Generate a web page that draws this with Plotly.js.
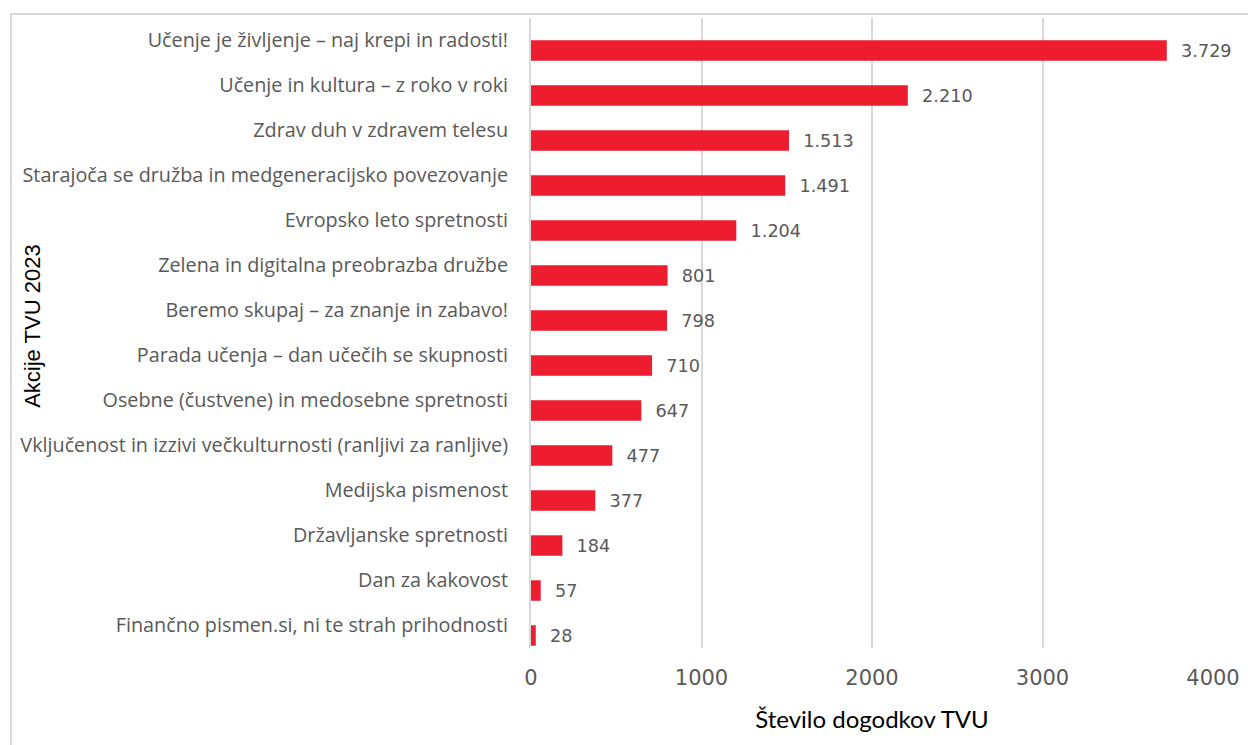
<!DOCTYPE html>
<html>
<head>
<meta charset="utf-8">
<script src="https://cdn.plot.ly/plotly-3.0.1.min.js"></script>
<style>
  body { margin: 0; background: #fff; }
  #graphArea { width: 1248px; height: 745px; }
  #frame { position: absolute; left: 10px; top: 13px; width: 1400px; height: 900px;
           border: 2px solid #d9d9d9; pointer-events: none; }
</style>
</head>
<body>
<div id="graphArea"></div>
<div id="frame"></div>
<script>
// akcije TVU 2023, od zgoraj navzdol
var akcije = [
    "Učenje je življenje – naj krepi in radosti!",
    "Učenje in kultura – z roko v roki",
    "Zdrav duh v zdravem telesu",
    "Starajoča se družba in medgeneracijsko povezovanje",
    "Evropsko leto spretnosti",
    "Zelena in digitalna preobrazba družbe",
    "Beremo skupaj – za znanje in zabavo!",
    "Parada učenja – dan učečih se skupnosti",
    "Osebne (čustvene) in medosebne spretnosti",
    "Vključenost in izzivi večkulturnosti (ranljivi za ranljive)",
    "Medijska pismenost",
    "Državljanske spretnosti",
    "Dan za kakovost",
    "Finančno pismen.si, ni te strah prihodnosti"
];
var dogodki = [3729, 2210, 1513, 1491, 1204, 801, 798, 710, 647, 477, 377, 184, 57, 28];

var xTicks = [0, 1000, 2000, 3000, 4000];

var grey = "#595959";

var trace = {
    type: "bar",
    orientation: "h",
    x: dogodki,
    y: akcije,
    // bars sit a bit lower than the category labels
    width: 0.455,
    offset: -0.005,
    marker: {color: "#ed1c2e"},
    texttemplate: "\u00a0\u00a0%{x:,}",
    textposition: "outside",
    cliponaxis: false,
    textfont: {family: "DejaVu Sans", size: 19, color: grey},
    hoverinfo: "x+y"
};

var layout = {
    width: 1248,
    height: 745,
    margin: {l: 531, r: 35, t: 18, b: 97},
    paper_bgcolor: "#fff",
    plot_bgcolor: "#fff",
    separators: ",.",
    showlegend: false,
    xaxis: {
        range: [0, 4000],
        tickvals: xTicks,
        ticktext: xTicks.map(String),
        showgrid: true,
        gridcolor: "#d9d9d9",
        gridwidth: 2,
        zeroline: false,
        showline: false,
        ticks: "",
        ticklabelstandoff: 15,
        tickfont: {family: "DejaVu Sans", size: 21, color: grey},
        title: {text: "Število dogodkov TVU", font: {family: "Lato", size: 24, color: "#000"}, standoff: 22}
    },
    yaxis: {
        autorange: "reversed",
        type: "category",
        showgrid: false,
        zeroline: false,
        showline: true,
        linecolor: "#d9d9d9",
        linewidth: 2,
        ticks: "",
        ticklabelstandoff: 17,
        tickfont: {family: "Open Sans", size: 19.8, color: grey}
    },
    annotations: [{
        text: "Akcije TVU 2023",
        textangle: -90,
        xref: "paper", yref: "paper",
        x: -0.73, y: 0.51,
        xanchor: "center", yanchor: "middle",
        showarrow: false,
        font: {family: "Liberation Sans", size: 22, color: "#000"}
    }]
};

Plotly.newPlot("graphArea", [trace], layout, {displayModeBar: false});
</script>
</body>
</html>
